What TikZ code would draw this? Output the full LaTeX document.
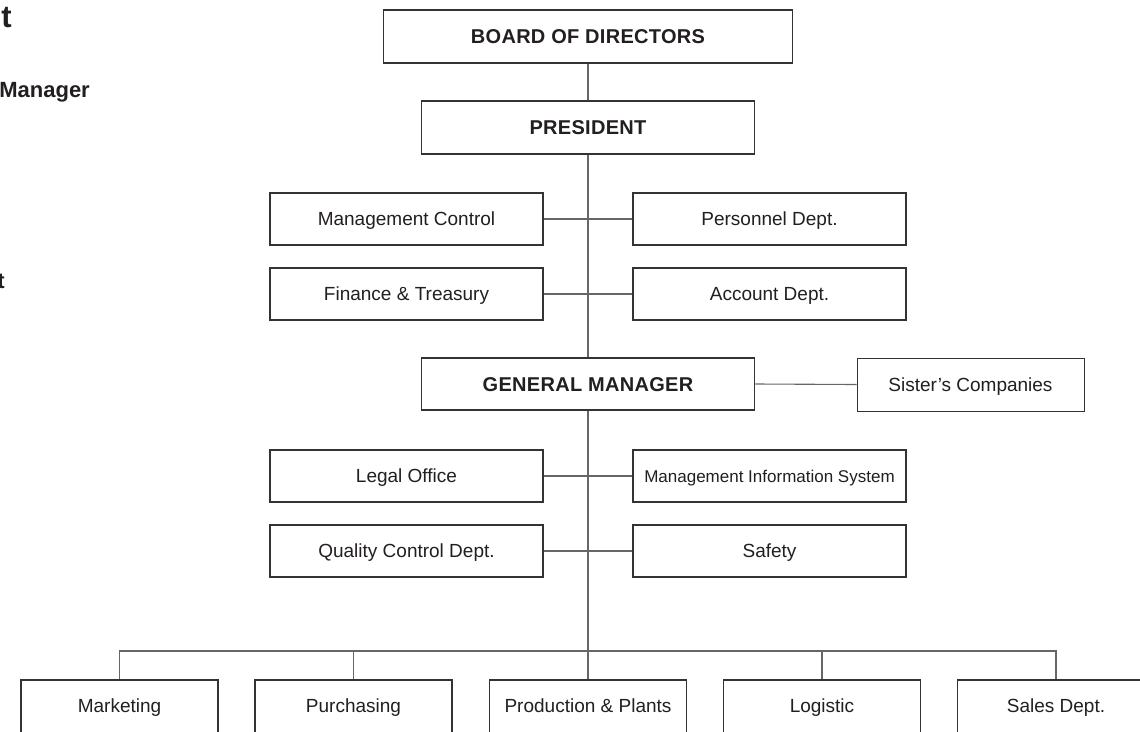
\documentclass[tikz,border=0pt]{standalone}
\usepackage{fontspec}
\setmainfont{Liberation Sans}
\newfontfamily\spacedsans[LetterSpace=1.5]{Liberation Sans}
\definecolor{ink}{HTML}{231F20}
\definecolor{boxline}{HTML}{333333}
\definecolor{connline}{HTML}{666666}
\tikzset{
  box/.style={draw=boxline, line width=1.8pt, text=ink, inner sep=0pt,
    minimum width=273pt, minimum height=52pt,
    text height=13.6pt, text depth=0pt,
    font=\fontsize{19}{21}\selectfont},
  headbox/.style={box, text height=14.3pt, font=\spacedsans\bfseries\fontsize{20}{22}\selectfont},
  thinbox/.style={box, line width=1pt},
  bottombox/.style={box, minimum width=197pt, minimum height=60pt, text depth=8pt},
  conn/.style={draw=connline, line width=1.1pt},
  sidetext/.style={text=ink, inner sep=0pt, anchor=base east}
}
\begin{document}
\begin{tikzpicture}[x=1pt, y=-1pt]
\useasboundingbox (0,0) rectangle (1140,731);
\clip (0,0) rectangle (1140,731);
\fill[white] (0,0) rectangle (1140,731);

% cut-off side texts
\node[sidetext, font=\bfseries\fontsize{31}{34}\selectfont] (ttl) at (12,27) {t};
\node[sidetext, font=\bfseries\fontsize{22}{24}\selectfont] (mgr) at (90,97) {Manager};
\node[sidetext, font=\bfseries\fontsize{22}{24}\selectfont] (tt) at (5,288) {t};

% top
\node[headbox, minimum width=409pt, minimum height=53pt] (board) at (588,36.5) {BOARD OF DIRECTORS};
\node[headbox, minimum width=333pt, minimum height=53pt] (pres) at (588,127.5) {PRESIDENT};

\node[box] (mc) at (406.5,219) {Management Control};
\node[box] (pd) at (769.5,219) {Personnel Dept.};
\node[box] (ft) at (406.5,294) {Finance \& Treasury};
\node[box] (ad) at (769.5,294) {Account Dept.};

\node[headbox, minimum width=333pt] (gm) at (588,384) {GENERAL MANAGER};
\node[thinbox, minimum width=227pt, minimum height=53pt] (sc) at (970.5,384.5) {Sister's Companies};

\node[box] (lo) at (406.5,476) {Legal Office};
\node[box, text height=12.2pt, font=\fontsize{17}{19}\selectfont] (mis) at (769.5,476) {Management Information System};
\node[box] (qc) at (406.5,551) {Quality Control Dept.};
\node[box] (sf) at (769.5,551) {Safety};

\node[bottombox] (mark) at (119.5,710) {Marketing};
\node[bottombox] (purch) at (353.5,710) {Purchasing};
\node[bottombox] (prod) at (588,710) {Production \& Plants};
\node[bottombox] (logi) at (822,710) {Logistic};
\node[bottombox] (sales) at (1056,710) {Sales Dept.};

% trunk
\draw[conn] (board.south) -- (pres.north);
\draw[conn] (pres.south) -- (gm.north);
\draw[conn] (gm.south) -- (prod.north);

% side pairs
\draw[conn] (mc.east) -- (pd.west);
\draw[conn] (ft.east) -- (ad.west);
\draw[conn] (gm.east) -- (sc.west);
\draw[conn] (lo.east) -- (mis.west);
\draw[conn] (qc.east) -- (sf.west);

% bus
\coordinate (bus) at (588,651);
\draw[conn] (mark.north) |- (bus) -| (sales.north);
\draw[conn] (purch.north) -- (purch.north |- bus);
\draw[conn] (logi.north) -- (logi.north |- bus);
\end{tikzpicture}
\end{document}
